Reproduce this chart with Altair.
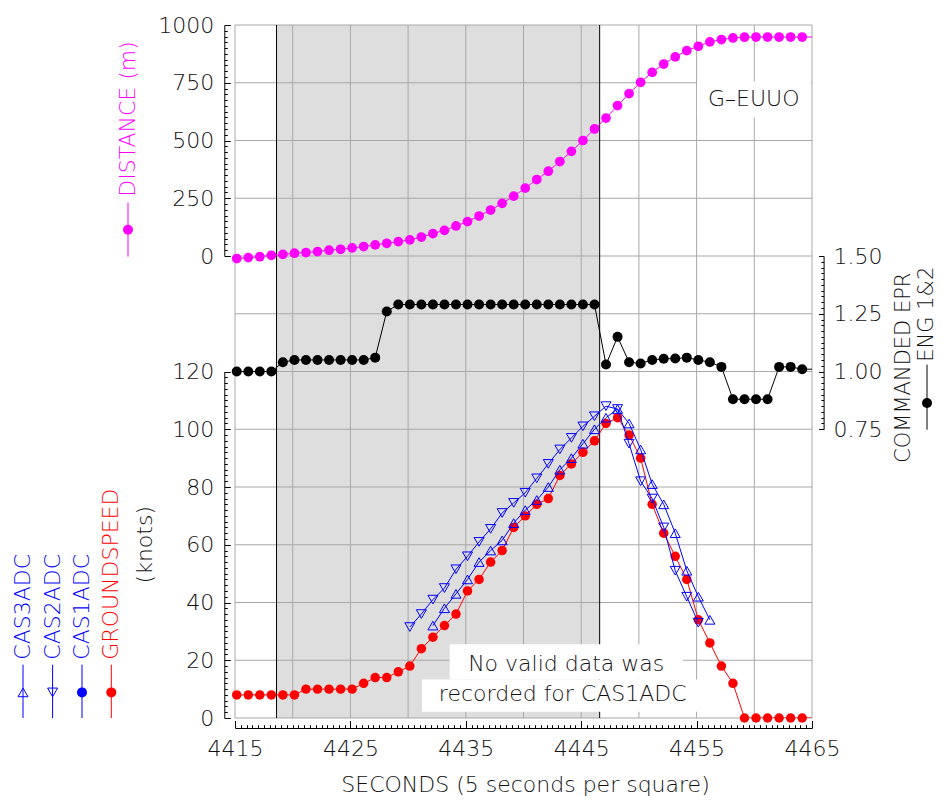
import altair as alt
import pandas as pd

# ---------------- data ----------------
seconds = [4415.15 + i for i in range(51)]

distance_m = [-11, -7, -3, 3, 7, 12, 15, 19, 25, 29,
              35, 41, 48, 55, 62, 70, 82, 97, 111, 130,
              149, 173, 199, 228, 259, 294, 331, 367, 409, 453,
              500, 550, 597, 651, 703, 752, 795, 831, 862, 889,
              908, 927, 937, 944, 947, 948, 948, 948, 948, 948, 948]

groundspeed_kt = [8, 8, 8, 8, 8, 8, 10, 10, 10, 10,
                  10, 12, 14, 14, 16, 18, 24, 28, 32, 36,
                  44, 48, 54, 58, 66, 70, 74, 76, 84, 88,
                  92, 96, 102, 104, 98, 90, 74, 64, 56, 48,
                  34, 26, 18, 12, 0, 0, 0, 0, 0, 0, 0]

epr_eng12 = [1.00, 1.00, 1.00, 1.00, 1.04, 1.05, 1.05, 1.05, 1.05, 1.05,
             1.05, 1.05, 1.06, 1.26, 1.29, 1.29, 1.29, 1.29, 1.29, 1.29,
             1.29, 1.29, 1.29, 1.29, 1.29, 1.29, 1.29, 1.29, 1.29, 1.29,
             1.29, 1.29, 1.03, 1.15, 1.04, 1.035, 1.05, 1.055, 1.056, 1.06,
             1.05, 1.04, 1.02, 0.88, 0.88, 0.88, 0.88, 1.02, 1.02, 1.01, 1.01]

cas2_seconds = seconds[15:41]
cas2_kt = [31.5, 36, 41, 45, 51.5, 56, 61, 65.5, 71, 74.5,
           78, 83, 88, 93, 97, 101, 104.5, 108, 107, 95,
           82, 76, 66, 51, 42, 33]

cas3_seconds = seconds[17:42]
cas3_kt = [32, 38, 43, 48, 54, 58, 61.5, 67.5, 72, 75.5,
           80, 86, 90, 95, 100, 104, 107, 102, 93, 81,
           74, 64, 51, 42, 34]

hatch_start, hatch_end = 4418.6, 4446.6

x_grid = [4415, 4420, 4425, 4430, 4435, 4440, 4445, 4450, 4455, 4460, 4465]
x_labels = [4415, 4425, 4435, 4445, 4455, 4465]
x_minor = [4415 + 0.5 * i for i in range(101)]
square_lines = [0, 20, 40, 60, 80, 100, 120, 140, 160, 180, 200, 220, 240]
dist_labels = [0, 250, 500, 750, 1000]
dist_minor = list(range(0, 1001, 25))
speed_labels = [0, 20, 40, 60, 80, 100, 120]
speed_minor = list(range(0, 121, 2))
epr_labels = [0.75, 1.00, 1.25, 1.50]
epr_minor = [round(0.75 + 0.025 * i, 3) for i in range(31)]

# ---------------- layout constants ----------------
W, H = 577, 693
SQ = H / 12.0
FONT = "DejaVu Sans"
FW = 200
FS = 22
MAG, RED, BLUE, BLK = "#ff00ff", "#ff0000", "#0000ff", "#000000"
GRID = "#a8a8a8"
TXT = "#111111"

main = pd.DataFrame({"t": seconds, "dist": distance_m, "gs": groundspeed_kt, "epr": epr_eng12})
cas2 = pd.DataFrame({"t": cas2_seconds, "v": cas2_kt})
cas3 = pd.DataFrame({"t": cas3_seconds, "v": cas3_kt})
one = pd.DataFrame({"a": [0]})

xs = alt.Scale(domain=[4415, 4465], nice=False, zero=False)
dist_s = alt.Scale(domain=[0, 1000], range=[4 * SQ, 0], nice=False, zero=False)
speed_s = alt.Scale(domain=[0, 120], range=[H, H - 6 * SQ], nice=False, zero=False)
epr_s = alt.Scale(domain=[0.75, 1.5], range=[H - 5 * SQ, H - 8 * SQ], nice=False, zero=False)


def X(field="t", axis=None):
    return alt.X(f"{field}:Q", scale=xs, axis=axis)


def Yd(field, axis=None):
    return alt.Y(f"{field}:Q", scale=dist_s, axis=axis)


def Ys(field, axis=None):
    return alt.Y(f"{field}:Q", scale=speed_s, axis=axis)


def Ye(field, axis=None):
    return alt.Y(f"{field}:Q", scale=epr_s, axis=axis)


def tick_axis(orient, offset, values, test, big, small):
    return alt.Axis(orient=orient, offset=offset, values=values, labels=False,
                    grid=False, title=None, domain=True, domainColor=BLK,
                    domainWidth=1, ticks=True, tickColor=BLK, tickWidth=1,
                    tickSize={"condition": {"test": test, "value": big}, "value": small})


def label_axis(orient, offset, values, fmt, pad):
    return alt.Axis(orient=orient, offset=offset, values=values, format=fmt, title=None,
                    ticks=False, tickSize=0, domain=False, grid=False,
                    labelPadding=pad, labelFont=FONT, labelFontSize=FS,
                    labelFontWeight=FW, labelColor=TXT, labelFlush=False,
                    labelOverlap=False, labelBound=False)


layers = []

# shaded period, carrying the x tick axis
hatch_df = pd.DataFrame({"t0": [hatch_start], "t1": [hatch_end]})
layers.append(
    alt.Chart(hatch_df).mark_rect(color="#dedede").encode(
        x=alt.X("t0:Q", scale=xs,
                axis=tick_axis("top", -(H + 10), x_minor, "datum.value % 10 === 5", 7.5, 3.3)),
        x2="t1:Q",
        y=alt.value(0), y2=alt.value(H))
)

# vertical grid (every 5 s), carrying the x labels
layers.append(
    alt.Chart(pd.DataFrame({"t": x_grid})).mark_rule(color=GRID, strokeWidth=1).encode(
        x=alt.X("t:Q", scale=xs, axis=label_axis("bottom", 10, x_labels, "d", 10)))
)

# horizontal grid (one line per square), carrying the speed tick axis
layers.append(
    alt.Chart(pd.DataFrame({"v": square_lines})).mark_rule(color=GRID, strokeWidth=1).encode(
        y=Ys("v", tick_axis("right", -(W + 10.7), speed_minor, "datum.value % 20 === 0", 6, 3)))
)

# edges of the shaded period
layers.append(
    alt.Chart(pd.DataFrame({"t": [hatch_start, hatch_end]})).mark_rule(color=BLK, strokeWidth=1).encode(
        x=X("t"))
)

# white boxes behind the annotations
layers.append(
    alt.Chart(pd.DataFrame({"t0": [4455.05], "t1": [4464.9], "v0": [600], "v1": [755]}))
    .mark_rect(color="white").encode(x=X("t0"), x2="t1:Q", y=Yd("v0"), y2="v1:Q")
)
layers.append(
    alt.Chart(pd.DataFrame({"t0": [4433.6, 4431.2], "t1": [4453.8, 4455.1],
                            "v0": [13.3, 2.2], "v1": [25.5, 13.3]}))
    .mark_rect(color="white").encode(x=X("t0"), x2="t1:Q", y=Ys("v0"), y2="v1:Q")
)

# annotation texts
layers.append(
    alt.Chart(pd.DataFrame({"t": [4459.95], "v": [678], "s": ["G\u2013EUUO"]}))
    .mark_text(font=FONT, fontSize=FS, fontWeight=FW, color=TXT, align="center", baseline="middle")
    .encode(x=X("t"), y=Yd("v"), text="s:N")
)
layers.append(
    alt.Chart(pd.DataFrame({"t": [4443.7, 4443.4], "v": [18.8, 8.4],
                            "s": ["No valid data was", "recorded for CAS1ADC"]}))
    .mark_text(font=FONT, fontSize=FS, fontWeight=FW, color=TXT, align="center", baseline="middle")
    .encode(x=X("t"), y=Ys("v"), text="s:N")
)

# DISTANCE
layers.append(
    alt.Chart(main).mark_line(color=MAG, strokeWidth=1, clip=True).encode(
        x=X(), y=Yd("dist", tick_axis("right", -(W + 10.7), dist_minor, "datum.value % 250 === 0", 6, 3)))
)
layers.append(
    alt.Chart(main).transform_filter(alt.datum.t <= 4465)
    .mark_point(shape="circle", filled=True, size=95, color=MAG, opacity=1).encode(
        x=X(), y=Yd("dist", label_axis("left", 10.7, dist_labels, "d", 10.5)))
)

# COMMANDED EPR
layers.append(
    alt.Chart(main).mark_line(color=BLK, strokeWidth=1, clip=True).encode(
        x=X(), y=Ye("epr", tick_axis("left", -(W + 11.6), epr_minor,
                                     "abs(datum.value*4 - round(datum.value*4)) < 0.001", 5, 2.7)))
)
layers.append(
    alt.Chart(main).transform_filter(alt.datum.t <= 4465)
    .mark_point(shape="circle", filled=True, size=100, color=BLK, opacity=1).encode(
        x=X(), y=Ye("epr", label_axis("right", 11.6, epr_labels, ".2f", 9.4)))
)

# GROUNDSPEED
layers.append(
    alt.Chart(main).mark_line(color=RED, strokeWidth=1, clip=True).encode(x=X(), y=Ys("gs"))
)
layers.append(
    alt.Chart(main).transform_filter(alt.datum.t <= 4465)
    .mark_point(shape="circle", filled=True, size=90, color=RED, opacity=1).encode(
        x=X(), y=Ys("gs", label_axis("left", 10.7, speed_labels, "d", 10.5)))
)

# CAS2ADC / CAS3ADC
layers.append(alt.Chart(cas2).mark_line(color=BLUE, strokeWidth=1, clip=True).encode(x=X(), y=Ys("v")))
layers.append(alt.Chart(cas2).mark_point(shape="triangle-down", filled=False, size=100, color=BLUE,
                                         strokeWidth=1, opacity=1, clip=True).encode(x=X(), y=Ys("v")))
layers.append(alt.Chart(cas3).mark_line(color=BLUE, strokeWidth=1, clip=True).encode(x=X(), y=Ys("v")))
layers.append(alt.Chart(cas3).mark_point(shape="triangle-up", filled=False, size=100, color=BLUE,
                                         strokeWidth=1, opacity=1, clip=True).encode(x=X(), y=Ys("v")))


# ---------------- legends / titles outside the plot ----------------
def vtext(txt, x, y, color, align="left", size=FS):
    return alt.Chart(one).mark_text(text=txt, angle=270, align=align, baseline="middle", font=FONT,
                                    fontSize=size, fontWeight=FW, color=color).encode(
        x=alt.value(x), y=alt.value(y))


def vglyph(x, y0, y1, ym, color, shape, filled):
    line = alt.Chart(one).mark_rule(color=color, strokeWidth=1).encode(
        x=alt.value(x), y=alt.value(y0), y2=alt.value(y1))
    pt = alt.Chart(one).mark_point(shape=shape, filled=filled, size=100, color=color, opacity=1,
                                   strokeWidth=1).encode(x=alt.value(x), y=alt.value(ym))
    return [line, pt]


legend_cols = [
    ("CAS3ADC", -212.0, BLUE, "triangle-up", False),
    ("CAS2ADC", -182.4, BLUE, "triangle-down", False),
    ("CAS1ADC", -153.0, BLUE, "circle", True),
    ("GROUNDSPEED", -123.7, RED, "circle", True),
]
for name, lx, col, shp, fil in legend_cols:
    layers.append(vtext(name, lx, 634.7, col))
    layers += vglyph(lx, 639.7, H, 667.4, col, shp, fil)

layers.append(vtext("(knots)", -89.7, 519.7, TXT, align="center"))
layers.append(vtext("DISTANCE  (m)", -107.0, 171.7, MAG))
layers += vglyph(-107.0, 177.7, 231.7, 204.7, MAG, "circle", True)

layers.append(vtext("COMMANDED EPR", 669.0, 342.7, TXT, align="center", size=21))
layers.append(vtext("ENG 1&2", 692.0, 336.7, TXT, size=21))
layers += vglyph(692.0, 339.7, 404.7, 378.0, BLK, "circle", True)

layers.append(
    alt.Chart(one).mark_text(text="SECONDS (5 seconds per square)", align="center", baseline="alphabetic",
                             font=FONT, fontSize=FS, fontWeight=FW, color=TXT).encode(
        x=alt.value(W / 2 + 2), y=alt.value(H + 74))
)

chart = (
    alt.layer(*layers)
    .resolve_scale(y="independent")
    .resolve_axis(x="independent", y="independent")
    .properties(width=W, height=H, padding={"left": 227, "top": 17, "right": 127, "bottom": 81},
                autosize=alt.AutoSizeParams(type="none"), background="white")
    .configure_view(strokeWidth=0)
)

chart.save("out.html", embed_options={"renderer": "svg", "actions": False})
